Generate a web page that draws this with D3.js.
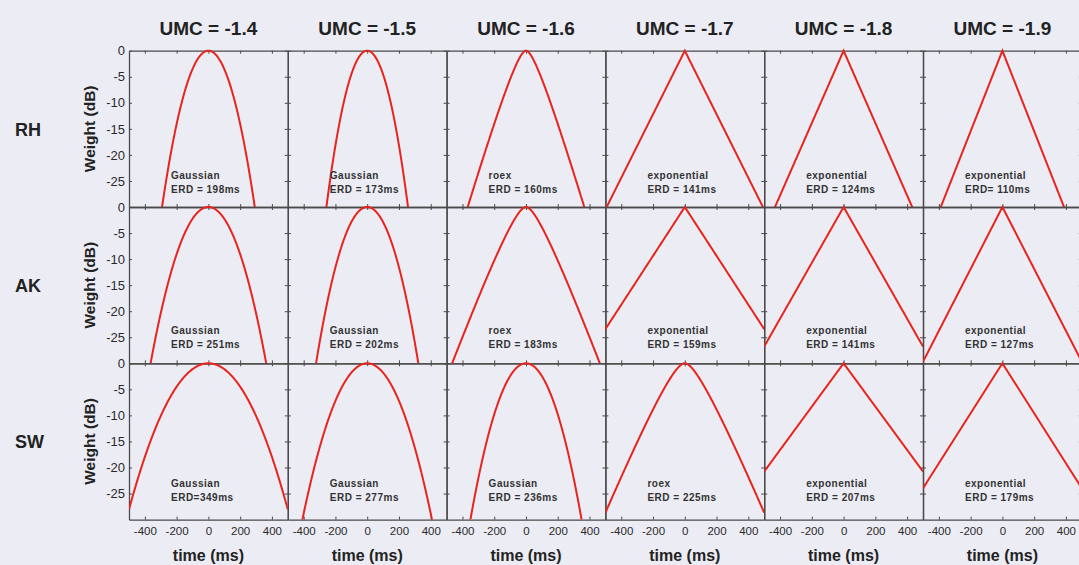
<!DOCTYPE html>
<html>
<head>
<meta charset="utf-8">
<script src="https://cdn.jsdelivr.net/npm/d3@7"></script>
<style>
  body { margin: 0; background: #ececf4; }
  svg { display: block; }
</style>
</head>
<body>
<svg width="1079" height="565"></svg>
<script>
const umcLabels = ['-1.4', '-1.5', '-1.6', '-1.7', '-1.8', '-1.9'];
const subjects = ['RH', 'AK', 'SW'];
const shapes = [
    ['Gaussian', 'Gaussian', 'roex', 'exponential', 'exponential', 'exponential'],
    ['Gaussian', 'Gaussian', 'roex', 'exponential', 'exponential', 'exponential'],
    ['Gaussian', 'Gaussian', 'Gaussian', 'roex', 'exponential', 'exponential']
];
const erdText = [
    ['ERD = 198ms', 'ERD = 173ms', 'ERD = 160ms', 'ERD = 141ms', 'ERD = 124ms', 'ERD= 110ms'],
    ['ERD = 251ms', 'ERD = 202ms', 'ERD = 183ms', 'ERD = 159ms', 'ERD = 141ms', 'ERD = 127ms'],
    ['ERD=349ms', 'ERD = 277ms', 'ERD = 236ms', 'ERD = 225ms', 'ERD = 207ms', 'ERD = 179ms']
];
// time (ms) at which each drawn window reaches -30 dB
const halfWidth30 = [
    [292, 257, 367, 492, 432, 388],
    [364, 322, 465, 640, 560, 505],
    [517, 408, 350, 519, 722, 625]
];
const xTicks = [-400, -200, 0, 200, 400];
const yTicks = [0, -5, -10, -15, -20, -25];

const svg = d3.select('svg');
const width = +svg.attr('width');
const height = +svg.attr('height');

const left0 = 129, top0 = 50.7;
const colW = 158.8, rowH = 156.3;

svg.append('rect').attr('width', width).attr('height', height).attr('fill', '#ececf4');

const xScale = d3.scaleLinear().domain([-500, 500]).range([0, colW]);
const yScale = d3.scaleLinear().domain([-30, 0]).range([rowH, 0]);

const weightDb = (shape, t, t30) => {
    const a = Math.abs(t);
    if (shape === 'Gaussian') return -30 * (a / t30) ** 2;
    if (shape === 'exponential') return -30 * a / t30;
    const p = 9.233 / t30;
    return 10 * Math.log10((1 + p * a) * Math.exp(-p * a));
};

const times = d3.range(-500, 500.1, 2);
const line = d3.line().x(d => xScale(d[0])).y(d => yScale(d[1]));

const font = 'Liberation Sans, Arial, sans-serif';
const frame = '#4a4a4a';
const plain = d => String(d);

svg.append('defs').append('clipPath').attr('id', 'panel-clip')
    .append('rect').attr('x', 0).attr('y', -3).attr('width', colW).attr('height', rowH + 3);

subjects.forEach((subj, r) => {
    umcLabels.forEach((umc, c) => {
        const g = svg.append('g')
            .attr('transform', `translate(${left0 + c * colW}, ${top0 + r * rowH})`);

        const bottomAxis = g.append('g')
            .attr('transform', `translate(0, ${rowH})`)
            .call(d3.axisBottom(xScale).tickValues(xTicks).tickSizeInner(-3).tickSizeOuter(0)
                .tickPadding(10).tickFormat(r === 2 ? plain : ''));
        const topAxis = g.append('g')
            .call(d3.axisTop(xScale).tickValues(xTicks).tickSizeInner(-3).tickSizeOuter(0).tickFormat(''));
        const leftAxis = g.append('g')
            .call(d3.axisLeft(yScale).tickValues(yTicks).tickSizeInner(-3).tickSizeOuter(0)
                .tickPadding(4).tickFormat(c === 0 ? plain : ''));
        const rightAxis = g.append('g')
            .attr('transform', `translate(${colW}, 0)`)
            .call(d3.axisRight(yScale).tickValues(yTicks).tickSizeInner(-3).tickSizeOuter(0).tickFormat(''));

        [bottomAxis, topAxis, leftAxis, rightAxis].forEach(a => {
            a.selectAll('.domain').attr('stroke', frame).attr('stroke-width', 1.3);
            a.selectAll('.tick line').attr('stroke', frame).attr('stroke-width', 1);
            a.selectAll('.tick text').attr('fill', '#2a2a2a').attr('font-family', font);
        });
        leftAxis.selectAll('.tick text').attr('font-size', 13);
        bottomAxis.selectAll('.tick text').attr('font-size', 11.5).attr('dy', '0.71em').attr('y', 7);

        const pts = times.map(t => [t, weightDb(shapes[r][c], t, halfWidth30[r][c])]);
        g.append('path')
            .datum(pts)
            .attr('clip-path', 'url(#panel-clip)')
            .attr('fill', 'none')
            .attr('stroke', '#e8241c')
            .attr('stroke-width', 2)
            .attr('d', line);

        const baseY = [128, 127, 124][r];
        const lab = g.append('text')
            .attr('font-family', font)
            .attr('font-size', 10)
            .attr('font-weight', 'bold')
            .attr('fill', '#333')
            .style('letter-spacing', '0.5px');
        lab.append('tspan').attr('x', 42).attr('y', baseY).text(shapes[r][c]);
        lab.append('tspan').attr('x', 42).attr('y', baseY + 14).text(erdText[r][c]);

        if (r === 0) {
            g.append('text')
                .attr('x', colW / 2)
                .attr('y', -16)
                .attr('text-anchor', 'middle')
                .attr('font-family', font)
                .attr('font-size', 19)
                .attr('font-weight', 'bold')
                .attr('fill', '#222')
                .text(`UMC = ${umc}`);
        }
        if (r === 2) {
            g.append('text')
                .attr('x', colW / 2)
                .attr('y', rowH + 41)
                .attr('text-anchor', 'middle')
                .attr('font-family', font)
                .attr('font-size', 16)
                .attr('font-weight', 'bold')
                .attr('fill', '#222')
                .text('time (ms)');
        }
        if (c === 0) {
            g.append('text')
                .attr('transform', `translate(-34, ${rowH / 2}) rotate(-90)`)
                .attr('text-anchor', 'middle')
                .attr('font-family', font)
                .attr('font-size', 15.5)
                .attr('font-weight', 'bold')
                .attr('fill', '#222')
                .text('Weight (dB)');
            g.append('text')
                .attr('x', -114)
                .attr('y', rowH / 2 + 7)
                .attr('font-family', font)
                .attr('font-size', 18)
                .attr('font-weight', 'bold')
                .attr('fill', '#222')
                .text(subj);
        }
    });
});
</script>
</body>
</html>
